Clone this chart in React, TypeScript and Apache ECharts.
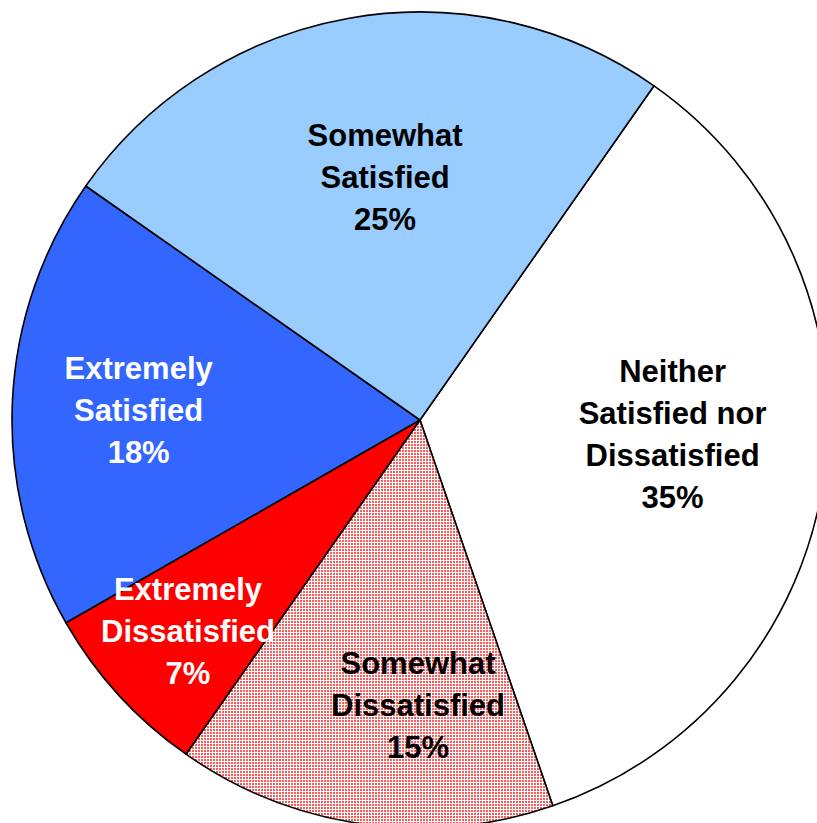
import React, { useEffect, useRef } from "react";
import * as echarts from "echarts";

// Slices in clockwise order starting from the top-right boundary
const categories = [
  "Neither\nSatisfied nor\nDissatisfied",
  "Somewhat\nDissatisfied",
  "Extremely\nDissatisfied",
  "Extremely\nSatisfied",
  "Somewhat\nSatisfied",
];
const values = [35, 15, 7, 18, 25];
const sliceColors = ["#FFFFFF", "pattern", "#FF0000", "#3366FF", "#99CCFF"];
const labelColors = ["#000000", "#000000", "#FFFFFF", "#FFFFFF", "#000000"];
// label placement: radial fraction and angular nudge (degrees)
const labelRadius = [0.62, 0.7, 0.77, 0.69, 0.6];
const labelAngleNudge = [4.8, 7.6, 0, 0.6, -1.8];

const CX = 420;
const CY = 420;
const R = 408;
const START = 55;

function makePattern(): HTMLCanvasElement {
  const c = document.createElement("canvas");
  c.width = 3;
  c.height = 3;
  const ctx = c.getContext("2d")!;
  ctx.fillStyle = "#FFFFFF";
  ctx.fillRect(0, 0, 3, 3);
  ctx.fillStyle = "#FF5A5A";
  ctx.fillRect(0, 0, 2, 2);
  return c;
}

export default function App() {
  const ref = useRef<HTMLDivElement>(null);
  useEffect(() => {
    if (!ref.current) return;
    const chart = echarts.init(ref.current, undefined, { renderer: "svg" });
    const pattern = makePattern();
    const total = values.reduce((a, b) => a + b, 0);
    const mids: number[] = [];
    let acc = 0;
    values.forEach((v) => {
      const a0 = START - (acc / total) * 360;
      acc += v;
      const a1 = START - (acc / total) * 360;
      mids.push((a0 + a1) / 2);
    });
    chart.setOption({
      animation: false,
      backgroundColor: "#FFFFFF",
      series: [
        {
          type: "pie",
          center: [CX, CY],
          radius: R,
          startAngle: START,
          clockwise: true,
          silent: true,
          avoidLabelOverlap: false,
          labelLine: { show: false },
          itemStyle: { borderColor: "#000000", borderWidth: 1.6 },
          label: {
            show: true,
            position: "inside",
            align: "center",
            verticalAlign: "middle",
            fontFamily: "'Liberation Sans', Arial, sans-serif",
            fontWeight: "bold",
            fontSize: 31,
            lineHeight: 42,
            formatter: (p: any) => `${p.name}\n${p.value}%`,
          },
          labelLayout: (p: any) => {
            const i = p.dataIndex;
            const ang = ((mids[i] + labelAngleNudge[i]) * Math.PI) / 180;
            return {
              x: CX + labelRadius[i] * R * Math.cos(ang),
              y: CY - labelRadius[i] * R * Math.sin(ang),
              align: "center",
              verticalAlign: "middle",
            };
          },
          data: categories.map((name, i) => ({
            name,
            value: values[i],
            itemStyle: {
              color:
                sliceColors[i] === "pattern"
                  ? { image: pattern, repeat: "repeat" }
                  : sliceColors[i],
            },
            label: { color: labelColors[i] },
          })),
        },
      ],
    });
    return () => chart.dispose();
  }, []);
  return (
    <div
      ref={ref}
      style={{ position: "fixed", left: 0, top: 0, width: 817, height: 823 }}
    />
  );
}
